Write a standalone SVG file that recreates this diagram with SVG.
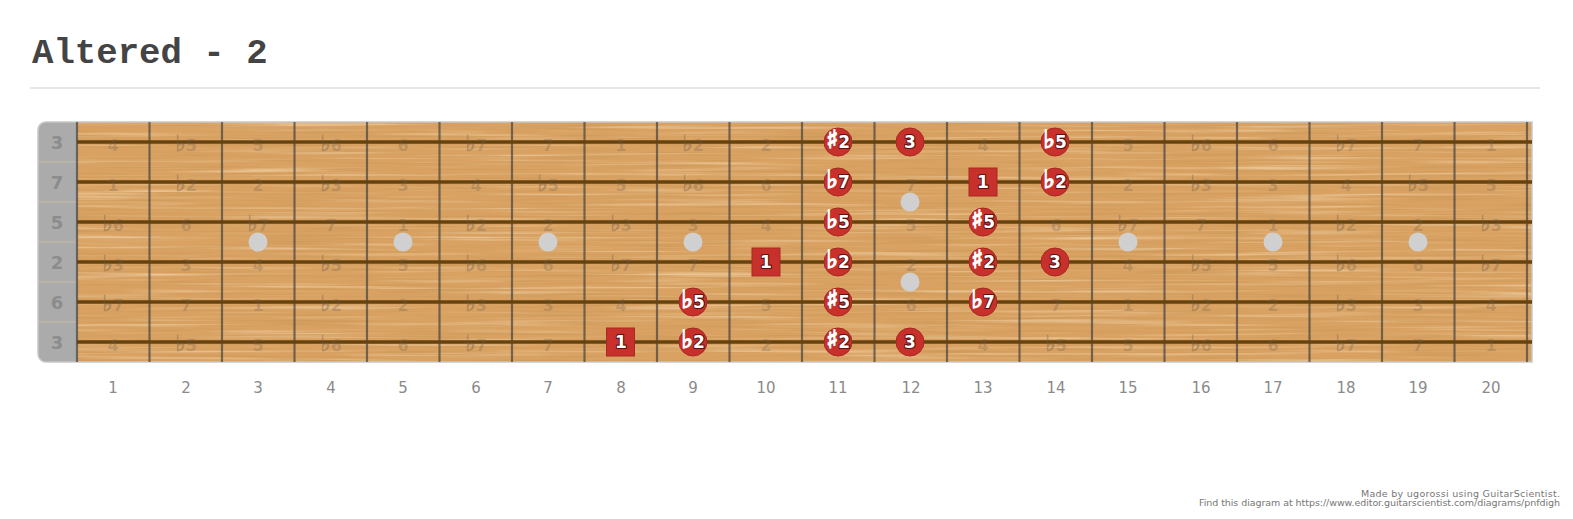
<svg xmlns="http://www.w3.org/2000/svg" width="1573" height="519" viewBox="0 0 1573 519">
<style>
.title{font-family:"Liberation Mono",monospace;font-weight:bold;font-size:35.7px;fill:#444}
.fn{font-family:"DejaVu Sans",sans-serif;font-size:15px;fill:#8a8a8a;text-anchor:middle}
.sl{font-family:"DejaVu Sans",sans-serif;font-weight:bold;font-size:18px;fill:#8c8c8c;text-anchor:middle}
.g{font-family:"DejaVu Sans",sans-serif;font-weight:bold;font-size:16px;fill:#6e5f50;fill-opacity:0.28;text-anchor:middle}
.nt{font-family:"DejaVu Sans",sans-serif;font-weight:bold;font-size:17px;fill:#fff;text-anchor:middle;stroke:#5a1212;stroke-width:2.2px;paint-order:stroke;stroke-linejoin:round}
.a{font-size:25px;stroke:#fff;stroke-width:1.4px;paint-order:normal}
.ga{font-size:22px;stroke:#6e5f50;stroke-opacity:0.28;stroke-width:1px}
.c{fill:#c8302b;stroke:#a82823;stroke-width:1}
.fret{stroke:#4a4540;stroke-opacity:0.72;stroke-width:2.2}
.str{stroke:#66420f;stroke-width:3.5}
.dot{fill:#d0d0d0}
.cr{font-family:"DejaVu Sans",sans-serif;font-size:9.5px;fill:#777;text-anchor:end}
</style>
<defs>
<clipPath id="bd"><path d="M46,122 H1532 V362 H46 A8 8 0 0 1 38 354 V130 A8 8 0 0 1 46 122 Z"/></clipPath>
<filter id="grainD" x="0" y="0" width="100%" height="100%">
<feTurbulence type="fractalNoise" baseFrequency="0.008 0.45" numOctaves="3" seed="7"/>
<feColorMatrix type="matrix" values="0 0 0 0 0.62  0 0 0 0 0.32  0 0 0 0 0.1  0 0 0 2.2 -1.0"/>
</filter>
<filter id="grainL" x="0" y="0" width="100%" height="100%">
<feTurbulence type="fractalNoise" baseFrequency="0.005 0.3" numOctaves="2" seed="19"/>
<feColorMatrix type="matrix" values="0 0 0 0 0.93  0 0 0 0 0.74  0 0 0 0 0.5  0 0 0 1.6 -0.8"/>
</filter>
</defs>
<rect width="1573" height="519" fill="#fff"/>
<text class="title" x="32" y="63">Altered - 2</text>
<line x1="30" y1="88" x2="1540" y2="88" stroke="#cfcfcf" stroke-width="1.2"/>

<g id="board">
<g clip-path="url(#bd)">
<rect x="38" y="122" width="1494" height="240" fill="#d9a262"/>
<rect x="38" y="122" width="1494" height="240" filter="url(#grainL)"/>
<rect x="38" y="122" width="1494" height="240" filter="url(#grainD)"/>
<rect x="38" y="122" width="39" height="240" fill="#ababab"/>
<g stroke="#d3c3a3" stroke-width="1" stroke-opacity="0.7">
<line x1="38" y1="162" x2="77" y2="162"/><line x1="38" y1="202" x2="77" y2="202"/><line x1="38" y1="242" x2="77" y2="242"/><line x1="38" y1="282" x2="77" y2="282"/><line x1="38" y1="322" x2="77" y2="322"/>
</g>
</g>
<path d="M46,122 H1532 V362 H46 A8 8 0 0 1 38 354 V130 A8 8 0 0 1 46 122 Z" fill="none" stroke="#c8c8c8" stroke-width="1.5"/>
</g>

<g id="string-labels">
<text class="sl" x="57" y="149">3</text>
<text class="sl" x="57" y="189">7</text>
<text class="sl" x="57" y="229">5</text>
<text class="sl" x="57" y="269">2</text>
<text class="sl" x="57" y="309">6</text>
<text class="sl" x="57" y="349">3</text>
</g>

<g id="frets">
<line class="fret" x1="77" y1="122" x2="77" y2="362"/>
<line class="fret" x1="149.5" y1="122" x2="149.5" y2="362"/>
<line class="fret" x1="222" y1="122" x2="222" y2="362"/>
<line class="fret" x1="294.5" y1="122" x2="294.5" y2="362"/>
<line class="fret" x1="367" y1="122" x2="367" y2="362"/>
<line class="fret" x1="439.5" y1="122" x2="439.5" y2="362"/>
<line class="fret" x1="512" y1="122" x2="512" y2="362"/>
<line class="fret" x1="584.5" y1="122" x2="584.5" y2="362"/>
<line class="fret" x1="657" y1="122" x2="657" y2="362"/>
<line class="fret" x1="729.5" y1="122" x2="729.5" y2="362"/>
<line class="fret" x1="802" y1="122" x2="802" y2="362"/>
<line class="fret" x1="874.5" y1="122" x2="874.5" y2="362"/>
<line class="fret" x1="947" y1="122" x2="947" y2="362"/>
<line class="fret" x1="1019.5" y1="122" x2="1019.5" y2="362"/>
<line class="fret" x1="1092" y1="122" x2="1092" y2="362"/>
<line class="fret" x1="1164.5" y1="122" x2="1164.5" y2="362"/>
<line class="fret" x1="1237" y1="122" x2="1237" y2="362"/>
<line class="fret" x1="1309.5" y1="122" x2="1309.5" y2="362"/>
<line class="fret" x1="1382" y1="122" x2="1382" y2="362"/>
<line class="fret" x1="1454.5" y1="122" x2="1454.5" y2="362"/>
<line class="fret" x1="1527" y1="122" x2="1527" y2="362"/>
</g>

<g id="inlays">
<circle class="dot" cx="258" cy="242" r="9.5"/>
<circle class="dot" cx="403" cy="242" r="9.5"/>
<circle class="dot" cx="548" cy="242" r="9.5"/>
<circle class="dot" cx="693" cy="242" r="9.5"/>
<circle class="dot" cx="910" cy="202" r="9.5"/>
<circle class="dot" cx="910" cy="282" r="9.5"/>
<circle class="dot" cx="1128" cy="242" r="9.5"/>
<circle class="dot" cx="1273" cy="242" r="9.5"/>
<circle class="dot" cx="1418" cy="242" r="9.5"/>
</g>

<g id="strings">
<line class="str" x1="77" y1="142" x2="1532" y2="142"/>
<line class="str" x1="77" y1="182" x2="1532" y2="182"/>
<line class="str" x1="77" y1="222" x2="1532" y2="222"/>
<line class="str" x1="77" y1="262" x2="1532" y2="262"/>
<line class="str" x1="77" y1="302" x2="1532" y2="302"/>
<line class="str" x1="77" y1="342" x2="1532" y2="342"/>
</g>

<g id="ghost-labels">
<text class="g" x="113" y="151">4</text><text class="g" x="186" y="151"><tspan class="ga">♭</tspan>5</text><text class="g" x="258" y="151">5</text><text class="g" x="331" y="151"><tspan class="ga">♭</tspan>6</text><text class="g" x="403" y="151">6</text><text class="g" x="476" y="151"><tspan class="ga">♭</tspan>7</text><text class="g" x="548" y="151">7</text><text class="g" x="621" y="151">1</text><text class="g" x="693" y="151"><tspan class="ga">♭</tspan>2</text><text class="g" x="766" y="151">2</text><text class="g" x="983" y="151">4</text><text class="g" x="1128" y="151">5</text><text class="g" x="1201" y="151"><tspan class="ga">♭</tspan>6</text><text class="g" x="1273" y="151">6</text><text class="g" x="1346" y="151"><tspan class="ga">♭</tspan>7</text><text class="g" x="1418" y="151">7</text><text class="g" x="1491" y="151">1</text>
<text class="g" x="113" y="191">1</text><text class="g" x="186" y="191"><tspan class="ga">♭</tspan>2</text><text class="g" x="258" y="191">2</text><text class="g" x="331" y="191"><tspan class="ga">♭</tspan>3</text><text class="g" x="403" y="191">3</text><text class="g" x="476" y="191">4</text><text class="g" x="548" y="191"><tspan class="ga">♭</tspan>5</text><text class="g" x="621" y="191">5</text><text class="g" x="693" y="191"><tspan class="ga">♭</tspan>6</text><text class="g" x="766" y="191">6</text><text class="g" x="911" y="191">7</text><text class="g" x="1128" y="191">2</text><text class="g" x="1201" y="191"><tspan class="ga">♭</tspan>3</text><text class="g" x="1273" y="191">3</text><text class="g" x="1346" y="191">4</text><text class="g" x="1418" y="191"><tspan class="ga">♭</tspan>5</text><text class="g" x="1491" y="191">5</text>
<text class="g" x="113" y="231"><tspan class="ga">♭</tspan>6</text><text class="g" x="186" y="231">6</text><text class="g" x="258" y="231"><tspan class="ga">♭</tspan>7</text><text class="g" x="331" y="231">7</text><text class="g" x="403" y="231">1</text><text class="g" x="476" y="231"><tspan class="ga">♭</tspan>2</text><text class="g" x="548" y="231">2</text><text class="g" x="621" y="231"><tspan class="ga">♭</tspan>3</text><text class="g" x="693" y="231">3</text><text class="g" x="766" y="231">4</text><text class="g" x="911" y="231">5</text><text class="g" x="1056" y="231">6</text><text class="g" x="1128" y="231"><tspan class="ga">♭</tspan>7</text><text class="g" x="1201" y="231">7</text><text class="g" x="1273" y="231">1</text><text class="g" x="1346" y="231"><tspan class="ga">♭</tspan>2</text><text class="g" x="1418" y="231">2</text><text class="g" x="1491" y="231"><tspan class="ga">♭</tspan>3</text>
<text class="g" x="113" y="271"><tspan class="ga">♭</tspan>3</text><text class="g" x="186" y="271">3</text><text class="g" x="258" y="271">4</text><text class="g" x="331" y="271"><tspan class="ga">♭</tspan>5</text><text class="g" x="403" y="271">5</text><text class="g" x="476" y="271"><tspan class="ga">♭</tspan>6</text><text class="g" x="548" y="271">6</text><text class="g" x="621" y="271"><tspan class="ga">♭</tspan>7</text><text class="g" x="693" y="271">7</text><text class="g" x="911" y="271">2</text><text class="g" x="1128" y="271">4</text><text class="g" x="1201" y="271"><tspan class="ga">♭</tspan>5</text><text class="g" x="1273" y="271">5</text><text class="g" x="1346" y="271"><tspan class="ga">♭</tspan>6</text><text class="g" x="1418" y="271">6</text><text class="g" x="1491" y="271"><tspan class="ga">♭</tspan>7</text>
<text class="g" x="113" y="311"><tspan class="ga">♭</tspan>7</text><text class="g" x="186" y="311">7</text><text class="g" x="258" y="311">1</text><text class="g" x="331" y="311"><tspan class="ga">♭</tspan>2</text><text class="g" x="403" y="311">2</text><text class="g" x="476" y="311"><tspan class="ga">♭</tspan>3</text><text class="g" x="548" y="311">3</text><text class="g" x="621" y="311">4</text><text class="g" x="766" y="311">5</text><text class="g" x="911" y="311">6</text><text class="g" x="1056" y="311">7</text><text class="g" x="1128" y="311">1</text><text class="g" x="1201" y="311"><tspan class="ga">♭</tspan>2</text><text class="g" x="1273" y="311">2</text><text class="g" x="1346" y="311"><tspan class="ga">♭</tspan>3</text><text class="g" x="1418" y="311">3</text><text class="g" x="1491" y="311">4</text>
<text class="g" x="113" y="351">4</text><text class="g" x="186" y="351"><tspan class="ga">♭</tspan>5</text><text class="g" x="258" y="351">5</text><text class="g" x="331" y="351"><tspan class="ga">♭</tspan>6</text><text class="g" x="403" y="351">6</text><text class="g" x="476" y="351"><tspan class="ga">♭</tspan>7</text><text class="g" x="548" y="351">7</text><text class="g" x="766" y="351">2</text><text class="g" x="983" y="351">4</text><text class="g" x="1056" y="351"><tspan class="ga">♭</tspan>5</text><text class="g" x="1128" y="351">5</text><text class="g" x="1201" y="351"><tspan class="ga">♭</tspan>6</text><text class="g" x="1273" y="351">6</text><text class="g" x="1346" y="351"><tspan class="ga">♭</tspan>7</text><text class="g" x="1418" y="351">7</text><text class="g" x="1491" y="351">1</text>
</g>

<g id="notes">
<g id="n-s6-f8"><rect class="c" x="606.5" y="328" width="28" height="28"/><text class="nt" x="621" y="348">1</text></g>
<g id="n-s5-f9"><circle class="c" cx="693" cy="302" r="14"/><text class="nt" x="693" y="308"><tspan class="a">♭</tspan>5</text></g>
<g id="n-s6-f9"><circle class="c" cx="693" cy="342" r="14"/><text class="nt" x="693" y="348"><tspan class="a">♭</tspan>2</text></g>
<g id="n-s4-f10"><rect class="c" x="752" y="248" width="28" height="28"/><text class="nt" x="766" y="268">1</text></g>
<g id="n-s1-f11"><circle class="c" cx="838" cy="142" r="14"/><text class="nt" x="838" y="148"><tspan class="a">♯</tspan>2</text></g>
<g id="n-s2-f11"><circle class="c" cx="838" cy="182" r="14"/><text class="nt" x="838" y="188"><tspan class="a">♭</tspan>7</text></g>
<g id="n-s3-f11"><circle class="c" cx="838" cy="222" r="14"/><text class="nt" x="838" y="228"><tspan class="a">♭</tspan>5</text></g>
<g id="n-s4-f11"><circle class="c" cx="838" cy="262" r="14"/><text class="nt" x="838" y="268"><tspan class="a">♭</tspan>2</text></g>
<g id="n-s5-f11"><circle class="c" cx="838" cy="302" r="14"/><text class="nt" x="838" y="308"><tspan class="a">♯</tspan>5</text></g>
<g id="n-s6-f11"><circle class="c" cx="838" cy="342" r="14"/><text class="nt" x="838" y="348"><tspan class="a">♯</tspan>2</text></g>
<g id="n-s1-f12"><circle class="c" cx="910" cy="142" r="14"/><text class="nt" x="910" y="148">3</text></g>
<g id="n-s6-f12"><circle class="c" cx="910" cy="342" r="14"/><text class="nt" x="910" y="348">3</text></g>
<g id="n-s2-f13"><rect class="c" x="969" y="168" width="28" height="28"/><text class="nt" x="983" y="188">1</text></g>
<g id="n-s3-f13"><circle class="c" cx="983" cy="222" r="14"/><text class="nt" x="983" y="228"><tspan class="a">♯</tspan>5</text></g>
<g id="n-s4-f13"><circle class="c" cx="983" cy="262" r="14"/><text class="nt" x="983" y="268"><tspan class="a">♯</tspan>2</text></g>
<g id="n-s5-f13"><circle class="c" cx="983" cy="302" r="14"/><text class="nt" x="983" y="308"><tspan class="a">♭</tspan>7</text></g>
<g id="n-s1-f14"><circle class="c" cx="1055" cy="142" r="14"/><text class="nt" x="1055" y="148"><tspan class="a">♭</tspan>5</text></g>
<g id="n-s2-f14"><circle class="c" cx="1055" cy="182" r="14"/><text class="nt" x="1055" y="188"><tspan class="a">♭</tspan>2</text></g>
<g id="n-s4-f14"><circle class="c" cx="1055" cy="262" r="14"/><text class="nt" x="1055" y="268">3</text></g>
</g>

<g id="fret-numbers">
<text class="fn" x="113" y="393">1</text><text class="fn" x="186" y="393">2</text><text class="fn" x="258" y="393">3</text><text class="fn" x="331" y="393">4</text><text class="fn" x="403" y="393">5</text><text class="fn" x="476" y="393">6</text><text class="fn" x="548" y="393">7</text><text class="fn" x="621" y="393">8</text><text class="fn" x="693" y="393">9</text><text class="fn" x="766" y="393">10</text><text class="fn" x="838" y="393">11</text><text class="fn" x="911" y="393">12</text><text class="fn" x="983" y="393">13</text><text class="fn" x="1056" y="393">14</text><text class="fn" x="1128" y="393">15</text><text class="fn" x="1201" y="393">16</text><text class="fn" x="1273" y="393">17</text><text class="fn" x="1346" y="393">18</text><text class="fn" x="1418" y="393">19</text><text class="fn" x="1491" y="393">20</text>
</g>

<g id="credits">
<text class="cr" x="1560" y="497" textLength="199" lengthAdjust="spacing">Made by ugorossi using GuitarScientist.</text>
<text class="cr" x="1560" y="506" textLength="361" lengthAdjust="spacing">Find this diagram at https://www.editor.guitarscientist.com/diagrams/pnfdigh</text>
</g>
</svg>
